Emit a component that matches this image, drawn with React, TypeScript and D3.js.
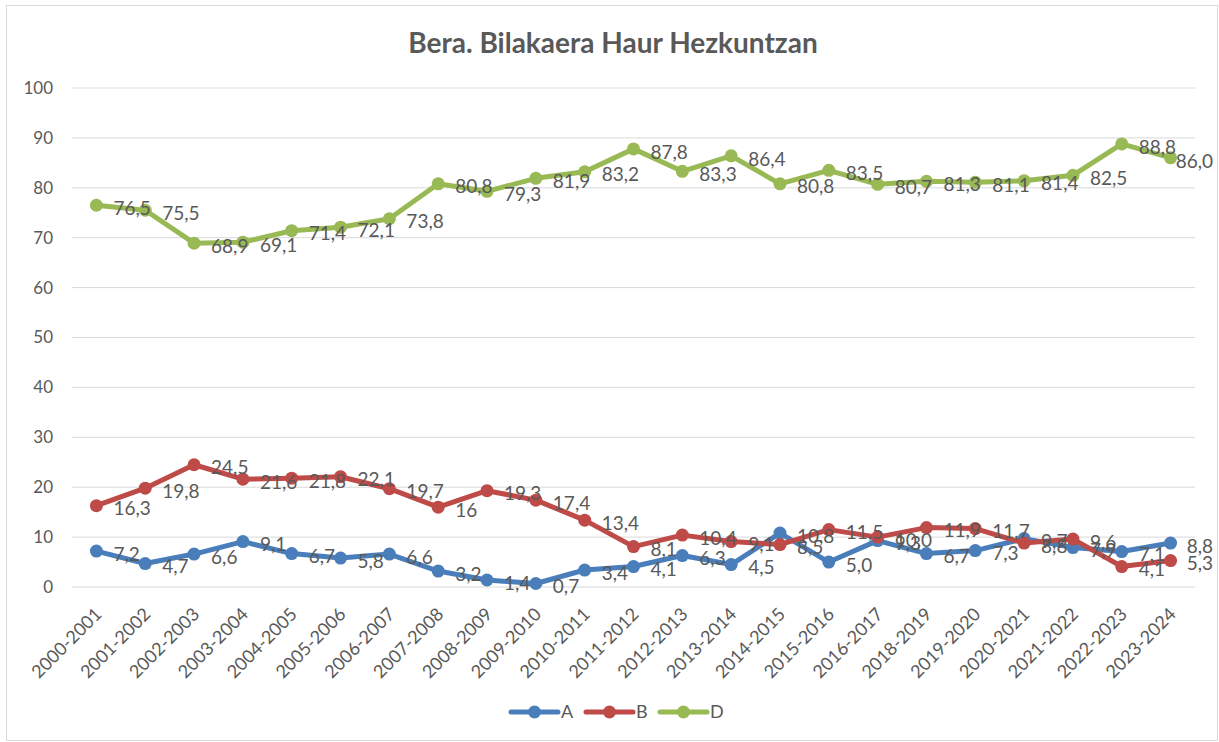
import React, { useRef, useEffect } from 'react';
import * as d3 from 'd3';

const categories = [
  '2000-2001', '2001-2002', '2002-2003', '2003-2004', '2004-2005', '2005-2006',
  '2006-2007', '2007-2008', '2008-2009', '2009-2010', '2010-2011', '2011-2012',
  '2012-2013', '2013-2014', '2014-2015', '2015-2016', '2016-2017', '2018-2019',
  '2019-2020', '2020-2021', '2021-2022', '2022-2023', '2023-2024',
];

const seriesA = [7.2, 4.7, 6.6, 9.1, 6.7, 5.8, 6.6, 3.2, 1.4, 0.7, 3.4, 4.1, 6.3, 4.5, 10.8, 5.0, 9.3, 6.7, 7.3, 9.7, 7.9, 7.1, 8.8];
const seriesB = [16.3, 19.8, 24.5, 21.6, 21.8, 22.1, 19.7, 16, 19.3, 17.4, 13.4, 8.1, 10.4, 9.1, 8.5, 11.5, 10.0, 11.9, 11.7, 8.8, 9.6, 4.1, 5.3];
const seriesD = [76.5, 75.5, 68.9, 69.1, 71.4, 72.1, 73.8, 80.8, 79.3, 81.9, 83.2, 87.8, 83.3, 86.4, 80.8, 83.5, 80.7, 81.3, 81.1, 81.4, 82.5, 88.8, 86.0];

// a few labels in the source were typed without decimals
const labelOverrides: Record<string, Record<number, string>> = { B: { 7: '16' } };

const yTicks = [0, 10, 20, 30, 40, 50, 60, 70, 80, 90, 100];

const series = [
  { name: 'A', values: seriesA, color: '#4a7ebb' },
  { name: 'B', values: seriesB, color: '#be4b48' },
  { name: 'D', values: seriesD, color: '#98b954' },
];

const WIDTH = 1219;
const HEIGHT = 742;
const FONT = 'Lato, "Liberation Sans", sans-serif';

export default function App() {
  const svgRef = useRef<SVGSVGElement | null>(null);

  useEffect(() => {
    const root = d3.select(svgRef.current);
    root.selectAll('*').remove();

    const margin = { top: 88, right: 24, bottom: 155, left: 72 };
    const innerWidth = WIDTH - margin.left - margin.right;
    const innerHeight = HEIGHT - margin.top - margin.bottom;

    // chart frame
    root.append('rect')
      .attr('x', 6.5).attr('y', 5.5)
      .attr('width', WIDTH - 8).attr('height', HEIGHT - 7)
      .attr('fill', '#fff')
      .attr('stroke', '#d9d9d9');

    root.append('text')
      .attr('x', 613)
      .attr('y', 53)
      .attr('text-anchor', 'middle')
      .style('font-family', FONT)
      .style('font-size', '28px')
      .style('font-weight', 'bold')
      .style('fill', '#595959')
      .text('Bera. Bilakaera Haur Hezkuntzan');

    const g = root.append('g').attr('transform', `translate(${margin.left},${margin.top})`);

    const x = d3.scaleBand<string>().domain(categories).range([0, innerWidth]);
    const y = d3.scaleLinear().domain([0, 100]).range([innerHeight, 0]);
    const cx = (c: string) => (x(c) as number) + x.bandwidth() / 2;

    // gridlines
    g.selectAll('.grid')
      .data(yTicks)
      .enter()
      .append('line')
      .attr('x1', 0).attr('x2', innerWidth)
      .attr('y1', d => y(d)).attr('y2', d => y(d))
      .attr('stroke', '#d9d9d9')
      .attr('stroke-width', 1);

    // y axis labels
    g.selectAll('.ytick')
      .data(yTicks)
      .enter()
      .append('text')
      .attr('x', -19)
      .attr('y', d => y(d))
      .attr('dy', '0.35em')
      .attr('text-anchor', 'end')
      .style('font-family', FONT)
      .style('font-size', '17px')
      .style('fill', '#595959')
      .text(d => d);

    // category labels
    g.selectAll('.xtick')
      .data(categories)
      .enter()
      .append('text')
      .attr('transform', d => `translate(${cx(d) + 2},${innerHeight + 24}) rotate(-45)`)
      .attr('text-anchor', 'end')
      .attr('dy', '0.35em')
      .style('font-family', FONT)
      .style('font-size', '18px')
      .style('fill', '#595959')
      .text(d => d);

    const line = d3.line<number>()
      .x((_, i) => cx(categories[i]))
      .y(d => y(d));

    series.forEach(s => {
      g.append('path')
        .datum(s.values)
        .attr('fill', 'none')
        .attr('stroke', s.color)
        .attr('stroke-width', 5)
        .attr('stroke-linejoin', 'round')
        .attr('stroke-linecap', 'round')
        .attr('d', line);

      g.selectAll(`.pt-${s.name}`)
        .data(s.values)
        .enter()
        .append('circle')
        .attr('cx', (_, i) => cx(categories[i]))
        .attr('cy', d => y(d))
        .attr('r', 6.5)
        .attr('fill', s.color);
    });

    // data labels, kept inside the chart frame like Excel does
    const maxRight = WIDTH - 6 - margin.left;
    series.forEach(s => {
      const overrides = labelOverrides[s.name] || {};
      g.selectAll(`.lbl-${s.name}`)
        .data(s.values)
        .enter()
        .append('text')
        .attr('x', (_, i) => cx(categories[i]) + 17)
        .attr('y', d => y(d) + 3)
        .attr('dy', '0.35em')
        .style('font-family', FONT)
        .style('font-size', '19px')
        .style('fill', '#595959')
        .text((d, i) => overrides[i] ?? d.toFixed(1).replace('.', ','))
        .each(function () {
          const el = this as SVGTextElement;
          const x0 = +el.getAttribute('x')!;
          const len = el.getComputedTextLength();
          if (x0 + len > maxRight) el.setAttribute('x', String(maxRight - len));
        });
    });

    // legend
    const legend = root.append('g').attr('transform', 'translate(0,712)');
    const legendX = [511, 586, 660];
    series.forEach((s, i) => {
      const lg = legend.append('g').attr('transform', `translate(${legendX[i]},0)`);
      lg.append('line')
        .attr('x1', 0).attr('x2', 47)
        .attr('stroke', s.color)
        .attr('stroke-width', 5)
        .attr('stroke-linecap', 'round');
      lg.append('circle').attr('cx', 23.5).attr('r', 6.5).attr('fill', s.color);
      lg.append('text')
        .attr('x', 50)
        .attr('dy', '0.35em')
        .style('font-family', FONT)
        .style('font-size', '18px')
        .style('fill', '#595959')
        .text(s.name);
    });
  }, []);

  return (
    <svg
      ref={svgRef}
      width={WIDTH}
      height={HEIGHT}
      style={{ position: 'absolute', left: 0, top: 0, background: '#fff' }}
    />
  );
}
